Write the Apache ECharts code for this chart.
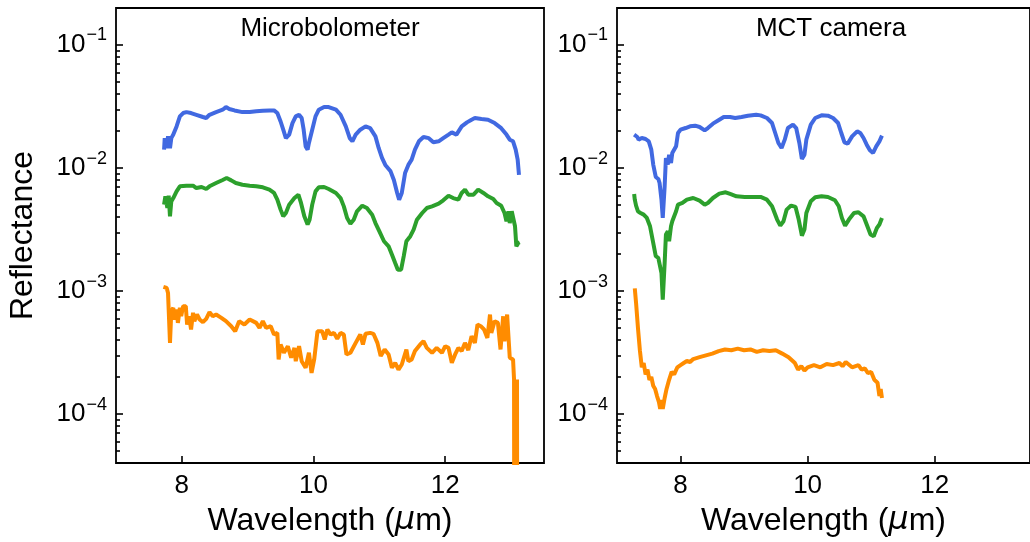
<!DOCTYPE html>
<html><head><meta charset="utf-8">
<script src="https://cdn.jsdelivr.net/npm/echarts@6/dist/echarts.min.js"></script>
<style>html,body{margin:0;padding:0;background:#fff}#c{width:1030px;height:542px}</style>
</head><body><div id="c"></div>
<script>
// ---- axis / label data ----
const panelTitles = ['Microbolometer', 'MCT camera'];
const xTicks = [8, 10, 12];
const yExponents = [-4, -3, -2, -1];
const xMin = 7, xMax = 13.5;
const yMin = 4e-5, yMax = 0.2;

// ---- series: [wavelength (um), reflectance] ----
const microBlue = [[7.73,0.0141],[7.74,0.0175],[7.77,0.0145],[7.79,0.0181],[7.82,0.0145],[7.84,0.0175],[7.87,0.0187],[7.92,0.0218],[7.97,0.0263],[8.02,0.0280],[8.07,0.0285],[8.14,0.0280],[8.22,0.0271],[8.32,0.0260],[8.37,0.0255],[8.42,0.0271],[8.52,0.0285],[8.62,0.0298],[8.67,0.0313],[8.72,0.0302],[8.80,0.0294],[8.92,0.0285],[9.03,0.0285],[9.13,0.0289],[9.23,0.0292],[9.33,0.0294],[9.40,0.0294],[9.45,0.0280],[9.50,0.0239],[9.54,0.0205],[9.58,0.0175],[9.63,0.0187],[9.68,0.0232],[9.73,0.0263],[9.78,0.0271],[9.82,0.0255],[9.85,0.0205],[9.88,0.0150],[9.91,0.0141],[9.93,0.0160],[9.98,0.0205],[10.03,0.0263],[10.08,0.0298],[10.16,0.0313],[10.23,0.0313],[10.34,0.0298],[10.41,0.0271],[10.49,0.0218],[10.55,0.0175],[10.59,0.0165],[10.64,0.0187],[10.71,0.0205],[10.79,0.0218],[10.86,0.0211],[10.94,0.0181],[10.99,0.0145],[11.04,0.0121],[11.09,0.0106],[11.17,0.0094],[11.22,0.0080],[11.27,0.00627],[11.30,0.00553],[11.34,0.00627],[11.39,0.0091],[11.44,0.0106],[11.49,0.0117],[11.54,0.0141],[11.60,0.0165],[11.67,0.0179],[11.75,0.0175],[11.82,0.0162],[11.90,0.0165],[11.97,0.0175],[12.05,0.0187],[12.10,0.0195],[12.17,0.0187],[12.25,0.0218],[12.33,0.0235],[12.40,0.0247],[12.45,0.0255],[12.55,0.0250],[12.65,0.0247],[12.75,0.0232],[12.85,0.0211],[12.93,0.0187],[12.98,0.0170],[13.01,0.0175],[13.03,0.0165],[13.07,0.0141],[13.10,0.0117],[13.12,0.0088]];
const microGreen = [[7.73,0.00504],[7.75,0.00589],[7.78,0.00473],[7.80,0.00596],[7.82,0.00405],[7.84,0.00536],[7.87,0.00570],[7.92,0.00646],[7.97,0.00710],[8.07,0.00719],[8.17,0.00719],[8.22,0.00688],[8.30,0.00701],[8.37,0.00675],[8.42,0.00710],[8.52,0.00755],[8.62,0.00800],[8.68,0.00829],[8.75,0.00794],[8.82,0.00755],[8.92,0.00732],[9.03,0.00719],[9.13,0.00710],[9.23,0.00697],[9.33,0.00667],[9.40,0.00627],[9.45,0.00553],[9.50,0.00459],[9.54,0.00405],[9.58,0.00431],[9.63,0.00504],[9.71,0.00570],[9.77,0.00607],[9.81,0.00520],[9.86,0.00405],[9.91,0.00347],[9.94,0.00380],[9.98,0.00504],[10.03,0.00646],[10.08,0.00697],[10.16,0.00701],[10.23,0.00675],[10.34,0.00627],[10.41,0.00570],[10.46,0.00488],[10.51,0.00392],[10.56,0.00353],[10.61,0.00380],[10.66,0.00445],[10.74,0.00494],[10.81,0.00473],[10.89,0.00418],[10.94,0.00357],[11.00,0.00306],[11.07,0.00254],[11.14,0.00231],[11.19,0.00198],[11.24,0.00169],[11.28,0.00149],[11.33,0.00149],[11.37,0.00192],[11.41,0.00254],[11.47,0.00279],[11.52,0.00316],[11.57,0.00380],[11.65,0.00431],[11.72,0.00473],[11.80,0.00488],[11.90,0.00513],[11.97,0.00546],[12.05,0.00596],[12.12,0.00570],[12.20,0.00553],[12.25,0.00627],[12.30,0.00667],[12.35,0.00607],[12.43,0.00607],[12.50,0.00667],[12.58,0.00627],[12.65,0.00589],[12.73,0.00560],[12.78,0.00520],[12.85,0.00494],[12.90,0.00431],[12.93,0.00369],[12.96,0.00445],[12.98,0.00357],[13.01,0.00445],[13.03,0.00437],[13.06,0.00336],[13.08,0.00231],[13.11,0.00246],[13.13,0.00249]];
const microOrange = [[7.72,0.00108],[7.77,0.00106],[7.79,0.000966],[7.82,0.000379],[7.84,0.000686],[7.87,0.000730],[7.89,0.000587],[7.92,0.000707],[7.94,0.000551],[7.97,0.000730],[7.99,0.000624],[8.02,0.000753],[8.06,0.000753],[8.08,0.000534],[8.11,0.000624],[8.14,0.000487],[8.17,0.000665],[8.19,0.000569],[8.23,0.000644],[8.27,0.000587],[8.32,0.000558],[8.37,0.000594],[8.42,0.000673],[8.47,0.000624],[8.52,0.000644],[8.60,0.000605],[8.67,0.000569],[8.75,0.000518],[8.81,0.000472],[8.87,0.000569],[8.95,0.000534],[9.03,0.000587],[9.13,0.000551],[9.18,0.000502],[9.23,0.000569],[9.28,0.000502],[9.35,0.000518],[9.40,0.000443],[9.45,0.000457],[9.47,0.000278],[9.50,0.000368],[9.55,0.000315],[9.61,0.000356],[9.66,0.000287],[9.71,0.000345],[9.73,0.000269],[9.78,0.000356],[9.82,0.000269],[9.88,0.000238],[9.93,0.000315],[9.97,0.000216],[10.01,0.000278],[10.06,0.000472],[10.13,0.000472],[10.17,0.000404],[10.21,0.000487],[10.26,0.000443],[10.31,0.000457],[10.36,0.000409],[10.41,0.000457],[10.46,0.000443],[10.50,0.000305],[10.56,0.000315],[10.64,0.000379],[10.71,0.000443],[10.75,0.000368],[10.79,0.000449],[10.86,0.000457],[10.91,0.000449],[10.97,0.000379],[11.02,0.000296],[11.08,0.000335],[11.14,0.000305],[11.19,0.000238],[11.24,0.000261],[11.29,0.000230],[11.34,0.000253],[11.41,0.000335],[11.44,0.000269],[11.49,0.000278],[11.54,0.000325],[11.62,0.000368],[11.67,0.000391],[11.72,0.000345],[11.80,0.000315],[11.87,0.000345],[11.95,0.000315],[12.00,0.000356],[12.05,0.000345],[12.10,0.000261],[12.15,0.000305],[12.20,0.000345],[12.25,0.000325],[12.30,0.000379],[12.35,0.000331],[12.40,0.000430],[12.45,0.000379],[12.49,0.000534],[12.54,0.000518],[12.59,0.000487],[12.64,0.000416],[12.68,0.000644],[12.70,0.000457],[12.75,0.000569],[12.80,0.000551],[12.84,0.000335],[12.88,0.000624],[12.90,0.000391],[12.94,0.000644],[12.98,0.000287],[13.03,0.000278],[13.045,0.000191],[13.05,1e-6],[13.09,0.000191],[13.095,1e-6]];
const mctBlue = [[7.27,0.01867],[7.29,0.01891],[7.32,0.01788],[7.34,0.01701],[7.37,0.01722],[7.39,0.01755],[7.45,0.01722],[7.50,0.01649],[7.54,0.01411],[7.57,0.01066],[7.61,0.00846],[7.65,0.00815],[7.67,0.00756],[7.70,0.00553],[7.72,0.00393],[7.75,0.00711],[7.77,0.01207],[7.80,0.01066],[7.82,0.01285],[7.85,0.01099],[7.87,0.01325],[7.93,0.01502],[7.96,0.01927],[8.00,0.02050],[8.08,0.02115],[8.15,0.02182],[8.23,0.02210],[8.30,0.02156],[8.38,0.02025],[8.43,0.02115],[8.51,0.02294],[8.61,0.02472],[8.68,0.02599],[8.78,0.02599],[8.86,0.02551],[8.96,0.02599],[9.06,0.02664],[9.19,0.02715],[9.26,0.02681],[9.36,0.02551],[9.44,0.02322],[9.49,0.01927],[9.54,0.01598],[9.59,0.01456],[9.64,0.01701],[9.69,0.02115],[9.77,0.02251],[9.82,0.02115],[9.87,0.01598],[9.91,0.01185],[9.95,0.01285],[9.98,0.01701],[10.05,0.02251],[10.12,0.02551],[10.22,0.02681],[10.32,0.02664],[10.40,0.02551],[10.48,0.02322],[10.53,0.01927],[10.58,0.01618],[10.63,0.01578],[10.70,0.01810],[10.78,0.01987],[10.83,0.01927],[10.88,0.01755],[10.93,0.01549],[10.98,0.01393],[11.03,0.01325],[11.08,0.01502],[11.13,0.01649],[11.17,0.01833]];
const mctGreen = [[7.27,0.00616],[7.28,0.00553],[7.30,0.00495],[7.33,0.00445],[7.37,0.00431],[7.42,0.00418],[7.47,0.00393],[7.52,0.00336],[7.57,0.00246],[7.61,0.00192],[7.65,0.00186],[7.67,0.00183],[7.70,0.00140],[7.72,0.000853],[7.75,0.00169],[7.77,0.00288],[7.80,0.00306],[7.82,0.00254],[7.85,0.00336],[7.87,0.00369],[7.93,0.00445],[7.96,0.00504],[8.03,0.00520],[8.10,0.00553],[8.20,0.00571],[8.30,0.00543],[8.38,0.00504],[8.43,0.00520],[8.51,0.00571],[8.61,0.00619],[8.71,0.00635],[8.78,0.00616],[8.88,0.00589],[9.01,0.00582],[9.16,0.00582],[9.26,0.00582],[9.36,0.00553],[9.44,0.00489],[9.52,0.00381],[9.57,0.00340],[9.62,0.00369],[9.67,0.00459],[9.74,0.00495],[9.81,0.00483],[9.86,0.00381],[9.91,0.00282],[9.95,0.00316],[9.98,0.00431],[10.05,0.00537],[10.12,0.00578],[10.22,0.00589],[10.32,0.00582],[10.43,0.00547],[10.49,0.00489],[10.54,0.00393],[10.59,0.00340],[10.65,0.00381],[10.73,0.00431],[10.80,0.00437],[10.88,0.00405],[10.93,0.00347],[10.99,0.00288],[11.04,0.00279],[11.09,0.00326],[11.13,0.00347],[11.17,0.00393]];
const mctOrange = [[7.28,0.00105],[7.30,0.00080],[7.33,0.00050],[7.36,0.00033],[7.39,0.00024],[7.42,0.00026],[7.45,0.00021],[7.48,0.00023],[7.51,0.00019],[7.54,0.00020],[7.57,0.00017],[7.60,0.00016],[7.63,0.00014],[7.66,0.000125],[7.68,0.00011],[7.70,0.00013],[7.72,0.00011],[7.75,0.000135],[7.78,0.00016],[7.82,0.00019],[7.86,0.00022],[7.90,0.00021],[7.95,0.00024],[8.00,0.00025],[8.05,0.00026],[8.10,0.00027],[8.15,0.000265],[8.20,0.00028],[8.30,0.00029],[8.40,0.00030],[8.50,0.00031],[8.60,0.000325],[8.70,0.000335],[8.80,0.00033],[8.90,0.00034],[9.00,0.00033],[9.10,0.000335],[9.20,0.00032],[9.30,0.00033],[9.40,0.000325],[9.50,0.00033],[9.60,0.00031],[9.70,0.00029],[9.80,0.00026],[9.85,0.00023],[9.90,0.000245],[9.95,0.000225],[10.00,0.00024],[10.10,0.00025],[10.20,0.00024],[10.30,0.000255],[10.40,0.00025],[10.50,0.00026],[10.55,0.000245],[10.60,0.000265],[10.70,0.00024],[10.80,0.00025],[10.85,0.00023],[10.90,0.000235],[10.95,0.000215],[11.00,0.00022],[11.05,0.00019],[11.10,0.00018],[11.13,0.00014],[11.15,0.00016],[11.17,0.000135]];

const colors = {blue: '#4169e1', green: '#2ca02c', orange: '#ff8c00'};
const FONT = "'Liberation Sans', Arial, Helvetica, sans-serif";
const lg = v => Math.log10(v);

const minorTicks = [];
for (let e = -5; e <= -1; e++) for (let k = 2; k <= 9; k++) {
  const v = k * Math.pow(10, e);
  if (v > yMin * 1.0001 && v < yMax * 0.9999) minorTicks.push(lg(v));
}

const gridLefts = [116, 617];
const grids = gridLefts.map(l => ({left: l, top: 8, width: 428, height: 455, show: true, borderColor: '#000', borderWidth: 1.8, backgroundColor: 'transparent', containLabel: false}));

const tickLine = {color: '#000', width: 1.6};
const xAxes = [0, 1].map(i => ({
  type: 'value', gridIndex: i, min: xMin, max: xMax,
  axisLine: {show: false}, splitLine: {show: false},
  axisTick: {show: true, inside: true, length: 7, customValues: xTicks, lineStyle: tickLine},
  axisLabel: {customValues: xTicks, fontSize: 26, color: '#000', fontFamily: FONT, margin: 10},
  name: 'Wavelength ({i|μ}m)', nameLocation: 'middle', nameGap: 42,
  nameTextStyle: {fontSize: 32, color: '#000', fontFamily: FONT,
    rich: {i: {fontSize: 32, fontStyle: 'italic', fontFamily: "'DejaVu Sans', sans-serif", color: '#000'}}}
}));

const yAxes = [];
[0, 1].forEach(i => {
  yAxes.push({
    type: 'value', gridIndex: i, position: 'left', offset: 0, min: lg(yMin), max: lg(yMax),
    axisLine: {show: false}, splitLine: {show: false},
    axisTick: {show: true, inside: true, length: 7, customValues: yExponents, lineStyle: tickLine},
    axisLabel: {
      customValues: yExponents, margin: 9,
      formatter: v => '{b|10}{s|\u2212' + Math.round(-v) + '}',
      rich: {
        b: {fontSize: 26, lineHeight: 26, verticalAlign: 'bottom', color: '#000', fontFamily: FONT},
        s: {fontSize: 18, lineHeight: 18, padding: [0, 0, 19, 1], color: '#000', fontFamily: FONT}
      }
    },
    name: i === 0 ? 'Reflectance' : '', nameLocation: 'middle', nameGap: 77,
    nameTextStyle: {fontSize: 32, color: '#000', fontFamily: FONT}
  });
  yAxes.push({
    type: 'value', gridIndex: i, position: 'left', offset: 0, min: lg(yMin), max: lg(yMax),
    axisLine: {show: false}, splitLine: {show: false},
    axisTick: {show: true, inside: true, length: 4, customValues: minorTicks, lineStyle: tickLine},
    axisLabel: {show: false}
  });
});

function mk(data, color, panel) {
  return {
    type: 'line', xAxisIndex: panel, yAxisIndex: panel * 2,
    data: data.map(([x, r]) => [x, lg(r)]),
    showSymbol: false, symbol: 'none', clip: true, silent: true,
    lineStyle: {color: color, width: 4}, itemStyle: {color: color}
  };
}

const option = {
  animation: false,
  backgroundColor: '#fff',
  title: panelTitles.map((t, i) => ({
    text: t, left: gridLefts[i] + 214, top: 16, textAlign: 'center', padding: 0,
    textStyle: {fontSize: 26, fontWeight: 'normal', color: '#000', fontFamily: FONT}
  })),
  grid: grids,
  xAxis: xAxes,
  yAxis: yAxes,
  series: [
    mk(microBlue, colors.blue, 0), mk(microGreen, colors.green, 0), mk(microOrange, colors.orange, 0),
    mk(mctBlue, colors.blue, 1), mk(mctGreen, colors.green, 1), mk(mctOrange, colors.orange, 1)
  ]
};
const chart = echarts.init(document.getElementById('c'), null, {renderer: 'canvas'});
chart.setOption(option);
</script></body></html>
